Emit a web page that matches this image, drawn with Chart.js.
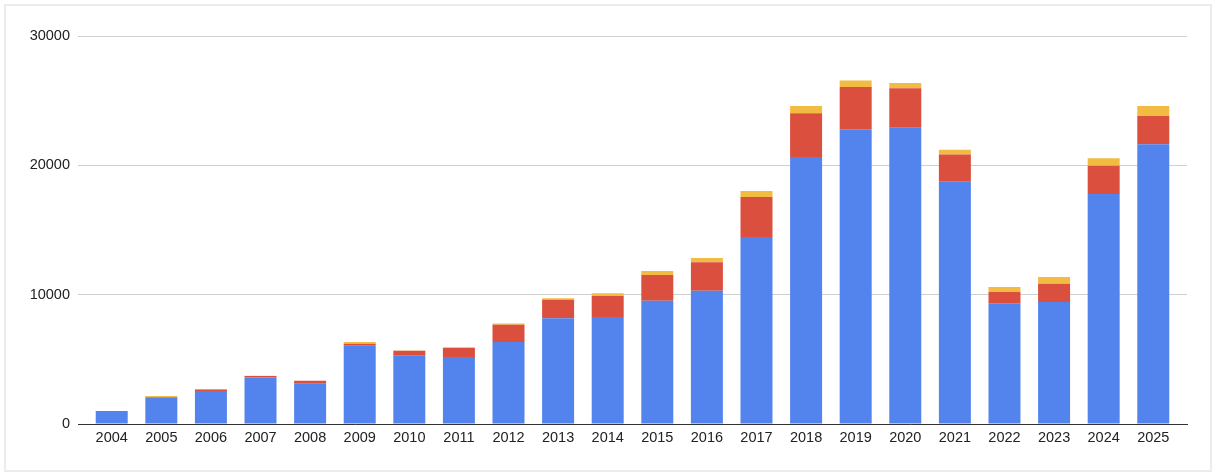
<!DOCTYPE html>
<html>
<head>
<meta charset="utf-8">
<script src="https://cdn.jsdelivr.net/npm/chart.js@4"></script>
<style>
body{margin:0;background:#fff;}
#frame{position:absolute;left:4px;top:4px;width:1208px;height:468px;box-sizing:border-box;border:2px solid #ececec;}
#chart{position:absolute;left:0;top:0;}
</style>
</head>
<body>
<div id="frame"></div>
<canvas id="chart" width="1216" height="476"></canvas>
<script>

let years = [2004,2005,2006,2007,2008,2009,2010,2011,2012,2013,2014,
2015,2016,2017,2018,2019,2020,2021,2022,2023,2024,2025];

/* bottom segment (blue) */
let blueValues = [1000,2050,2550,3600,3120,6050,5280,5180,6340,8170,8270,
9530,10310,14460,20640,22790,22910,18740,9330,9430,17780,21630];

/* middle segment (red) */
let redValues = [0,40,120,120,220,160,380,700,1340,1440,1630,
1990,2190,3090,3380,3270,3050,2090,880,1420,2190,2190];

/* top segment (yellow) */
let yellowValues = [0,70,10,10,10,130,20,50,100,110,200,
310,330,465,570,490,410,380,380,520,570,770];

let yTicks = [0,10000,20000,30000];

let labelFont = {family:"Liberation Sans",size:14.5};

let ctx = document.getElementById("chart").getContext("2d");

let chart = new Chart(ctx,{
type:"bar",
data:{
labels:years,
datasets:[
{data:blueValues,backgroundColor:"#5383ec"},
{data:redValues,backgroundColor:"#da4f3e"},
{data:yellowValues,backgroundColor:"#f2bc42"}
]
},
options:{
responsive:false,
animation:false,
layout:{padding:{top:36,right:29,left:0,bottom:0}},
plugins:{
legend:{display:false},
tooltip:{enabled:false}
},
datasets:{bar:{barPercentage:0.645,categoryPercentage:1}},
scales:{
x:{
type:"linear",
stacked:true,
offset:false,
min:years[0]-0.68,
max:years[years.length-1]+0.68,
afterBuildTicks:function(scale){scale.ticks=years.map(v=>({value:v}));},
grid:{display:false,drawTicks:false},
border:{display:true,color:"#333",width:1},
ticks:{color:"#222",font:labelFont,padding:5,maxRotation:0,autoSkip:false,
callback:function(v){return String(v);}},
afterFit:function(scale){scale.height=52;}
},
y:{
stacked:true,
min:0,
max:30000,
afterBuildTicks:function(scale){scale.ticks=yTicks.map(v=>({value:v}));},
grid:{color:"#cfcfcf",drawTicks:false},
border:{display:false},
ticks:{color:"#222",font:labelFont,padding:8,
callback:function(v){return String(v);}},
afterFit:function(scale){scale.width=78;}
}
}
}
});

</script>
</body>
</html>
